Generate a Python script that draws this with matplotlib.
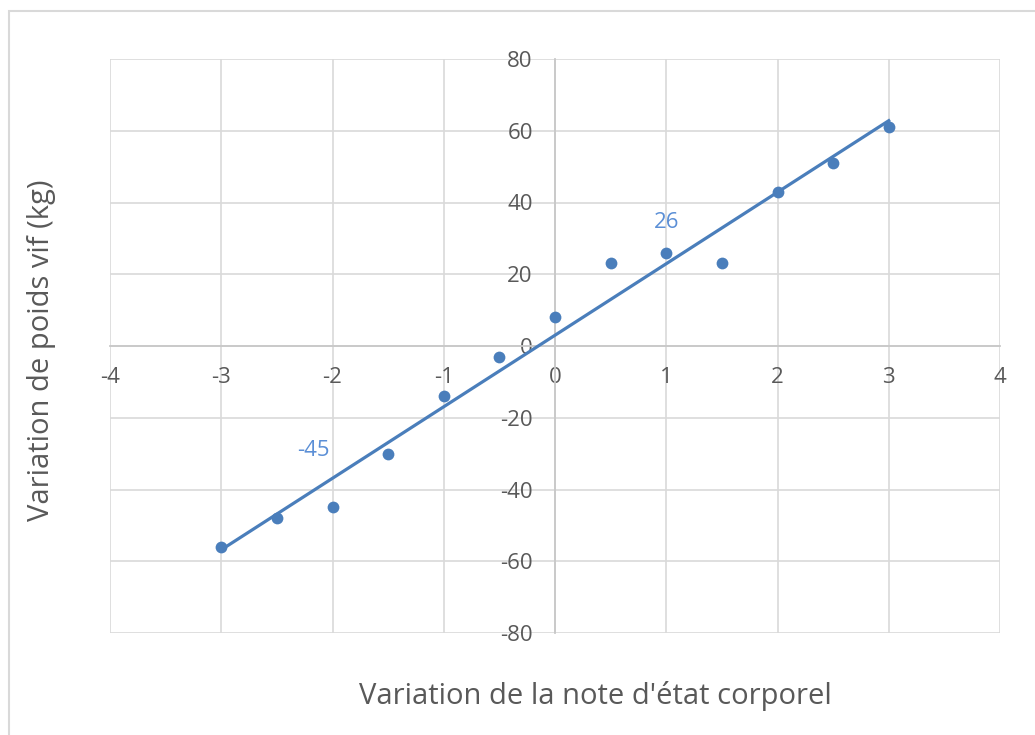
import numpy as np
import matplotlib.pyplot as plt
from matplotlib.patches import Rectangle

plt.rcParams['font.family'] = ['Open Sans', 'DejaVu Sans']
plt.rcParams['axes.unicode_minus'] = False

x_note = [-3, -2.5, -2, -1.5, -1, -0.5, 0, 0.5, 1, 1.5, 2, 2.5, 3]
y_poids = [-56, -48, -45, -30, -14, -3, 8, 23, 26, 23, 43, 51, 61]
labeled = [(-2, -45, (-14, 41)), (1, 26, (0, 22))]

# trendline (least squares)
a, b = np.polyfit(x_note, y_poids, 1)
xt = np.array([min(x_note), max(x_note)])

fig = plt.figure(figsize=(10.35, 7.35), dpi=100)
ax = fig.add_axes([110 / 1035, 1 - 633 / 735, 890 / 1035, 574 / 735])

# outer chart frame
fig.patches.append(Rectangle((9 / 1035, -0.05), 1.1, 1 - 11 / 735 + 0.05,
                             transform=fig.transFigure, fill=False,
                             edgecolor='#D9D9D9', linewidth=1.5))

blue = '#4A7EBB'
ax.plot(xt, a * xt + b, color=blue, linewidth=2.3, zorder=3)
ax.scatter(x_note, y_poids, s=72, color=blue, zorder=4, linewidths=0)

for xv, yv, off in labeled:
    ax.annotate(str(yv), (xv, yv), xytext=off, textcoords='offset points',
                ha='center', va='center', color='#5B8FD6', fontsize=16)

ax.set_xlim(-4, 4)
ax.set_ylim(-80, 80)
ax.set_xticks(range(-4, 5))
ax.set_yticks(range(-80, 81, 20))
ax.grid(True, color='#D9D9D9', linewidth=1.2)
ax.set_axisbelow(True)

for side in ['top', 'right']:
    ax.spines[side].set_visible(False)
ax.spines['left'].set_position(('data', 0))
ax.spines['bottom'].set_position(('data', 0))
ax.spines['left'].set_color('#C8C8C8')
ax.spines['bottom'].set_color('#C8C8C8')
ax.spines['left'].set_linewidth(1.3)
ax.spines['bottom'].set_linewidth(1.3)

ax.tick_params(axis='both', length=0, labelsize=16, labelcolor='#595959')
ax.tick_params(axis='x', pad=15)
ax.tick_params(axis='y', pad=16)

fig.text(595 / 1035, 1 - 696 / 735, "Variation de la note d'état corporel",
         ha='center', va='center', fontsize=21, color='#595959')
fig.text(42 / 1035, 1 - 350 / 735, 'Variation de poids vif (kg)',
         ha='center', va='center', rotation=90, fontsize=21, color='#595959')

fig.savefig('out.png', dpi=100)
